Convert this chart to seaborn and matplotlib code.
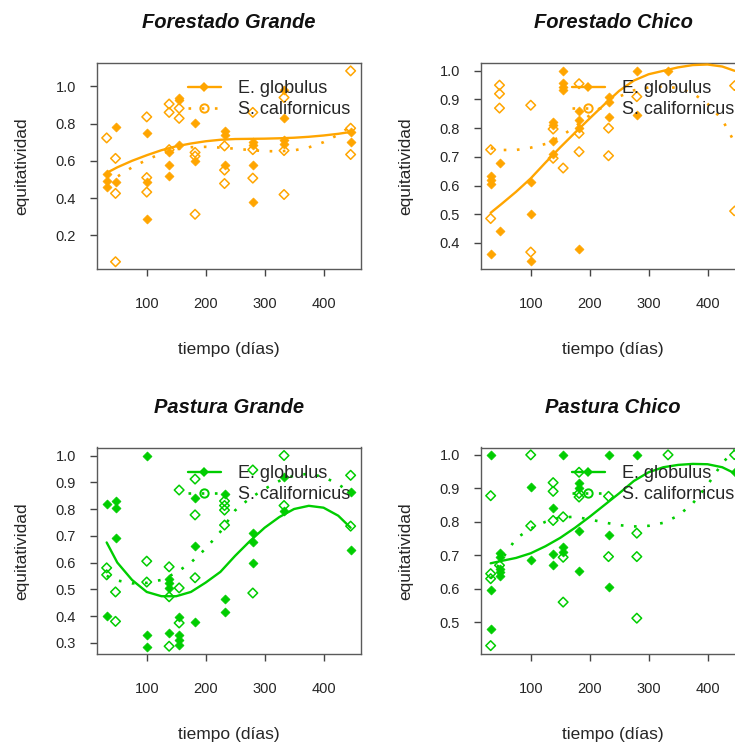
import matplotlib
matplotlib.use("Agg")
import matplotlib.pyplot as plt
from matplotlib.lines import Line2D
import pandas as pd
import seaborn as sns

# Sampling days (x) shared by every plot
DIAS = [32, 47, 100, 138, 155, 182, 232, 280, 333, 446]

# Equitativity observations per sampling day: E. globulus (filled) / S. californicus (open)
FG_EG = [[0.53, 0.49, 0.46], [0.78, 0.485], [0.748, 0.485, 0.29], [0.65, 0.58, 0.52],
         [0.94, 0.925, 0.685], [0.805, 0.60], [0.76, 0.74, 0.58], [0.70, 0.685, 0.58, 0.38],
         [0.98, 0.828, 0.71, 0.69], [0.756, 0.70]]
FG_SC = [[0.723], [0.613, 0.425, 0.058], [0.836, 0.51, 0.432], [0.905, 0.86, 0.66],
         [0.882, 0.828], [0.645, 0.625, 0.313], [0.68, 0.55, 0.478], [0.86, 0.66, 0.507],
         [0.94, 0.655, 0.419], [1.083, 0.775, 0.634]]

FC_EG = [[0.635, 0.62, 0.605, 0.36], [0.68, 0.44], [0.612, 0.50, 0.337], [0.822, 0.81, 0.755, 0.71],
         [1.0, 0.956, 0.944, 0.932], [0.86, 0.828, 0.80, 0.38], [0.91, 0.89, 0.838], [1.0, 0.847],
         [1.0], []]
FC_SC = [[0.725, 0.485], [0.95, 0.92, 0.87], [0.88, 0.368], [0.797, 0.695], [0.661],
         [0.955, 0.782, 0.718], [0.80, 0.704], [0.91], [], [0.948, 0.511]]

PG_EG = [[0.818, 0.40], [0.83, 0.804, 0.693], [1.0, 0.33, 0.285], [0.54, 0.525, 0.505, 0.335],
         [0.398, 0.33, 0.31, 0.292], [0.843, 0.662, 0.376], [0.855, 0.465, 0.416],
         [0.709, 0.675, 0.60], [0.92, 0.792], [0.865, 0.646]]
PG_SC = [[0.58, 0.554], [0.49, 0.38], [0.605, 0.527], [0.584, 0.472, 0.287], [0.871, 0.505, 0.374],
         [0.912, 0.778, 0.543], [0.83, 0.813, 0.796, 0.74], [0.946, 0.486], [1.0, 0.813],
         [0.926, 0.736]]

PC_EG = [[1.0, 0.596, 0.48], [0.708, 0.696, 0.66, 0.651, 0.638], [0.904, 0.687],
         [0.842, 0.705, 0.671], [1.0, 0.726, 0.709], [0.916, 0.901, 0.774, 0.654],
         [1.0, 0.762, 0.604], [1.0], [], [0.948]]
PC_SC = [[0.878, 0.645, 0.63, 0.43], [0.67], [1.0, 0.788], [0.917, 0.891, 0.804],
         [0.815, 0.694, 0.56], [0.948, 0.885, 0.874], [0.876, 0.696], [0.766, 0.696, 0.512],
         [1.0], [1.0]]

# Fitted trend curves, evaluated on a common day grid
CURVA_DIAS = [32, 50, 75, 100, 125, 150, 175, 200, 225, 250, 275, 300, 325, 350, 375, 400, 425, 446]
FG_EG_FIT = [0.535, 0.565, 0.60, 0.63, 0.657, 0.678, 0.693, 0.705, 0.713, 0.717, 0.718, 0.719,
             0.721, 0.724, 0.729, 0.736, 0.745, 0.755]
FG_SC_FIT = [0.48, 0.515, 0.565, 0.605, 0.64, 0.662, 0.673, 0.675, 0.671, 0.665, 0.658, 0.652,
             0.651, 0.656, 0.672, 0.70, 0.74, 0.785]
FC_EG_FIT = [0.505, 0.535, 0.578, 0.625, 0.68, 0.733, 0.784, 0.834, 0.883, 0.93, 0.966, 0.988,
             1.0, 1.012, 1.02, 1.022, 1.015, 1.0]
FC_SC_FIT = [0.73, 0.724, 0.724, 0.732, 0.745, 0.77, 0.805, 0.845, 0.88, 0.91, 0.932, 0.942,
             0.945, 0.94, 0.922, 0.885, 0.83, 0.75]
PG_EG_FIT = [0.675, 0.60, 0.535, 0.49, 0.474, 0.474, 0.49, 0.525, 0.565, 0.625, 0.68, 0.73,
             0.77, 0.80, 0.812, 0.805, 0.775, 0.73]
PG_SC_FIT = [0.55, 0.533, 0.522, 0.524, 0.535, 0.562, 0.60, 0.652, 0.715, 0.795, 0.84, 0.875,
             0.905, 0.925, 0.932, 0.92, 0.893, 0.86]
PC_EG_FIT = [0.676, 0.683, 0.692, 0.706, 0.727, 0.752, 0.782, 0.815, 0.85, 0.885, 0.922, 0.948,
             0.963, 0.97, 0.973, 0.972, 0.963, 0.945]
PC_SC_FIT = [0.63, 0.685, 0.75, 0.78, 0.80, 0.813, 0.815, 0.807, 0.798, 0.79, 0.786, 0.788,
             0.797, 0.818, 0.855, 0.91, 0.975, 1.015]

TITULOS = ["Forestado Grande", "Forestado Chico", "Pastura Grande", "Pastura Chico"]
X_TICKS = [100, 200, 300, 400]
Y_TICKS = [[0.2, 0.4, 0.6, 0.8, 1.0],
           [0.4, 0.5, 0.6, 0.7, 0.8, 0.9, 1.0],
           [0.3, 0.4, 0.5, 0.6, 0.7, 0.8, 0.9, 1.0],
           [0.5, 0.6, 0.7, 0.8, 0.9, 1.0]]
Y_LIMS = [(0.019, 1.128), (0.309, 1.029), (0.258, 1.030), (0.405, 1.022)]
X_LIM = (15.6, 463.6)
LEYENDA = ["E. globulus", "S. californicus"]

NARANJA = "#FFA500"
VERDE = "#00CD00"
TEXTO = "#262626"

sns.set_style("ticks")
plt.rcParams["font.family"] = ["Liberation Sans", "DejaVu Sans"]


def puntos(grupos):
    filas = [(d, v) for d, vals in zip(DIAS, grupos) for v in vals]
    return pd.DataFrame(filas, columns=["dia", "equit"])


W, H = 735, 745
fig = plt.figure(figsize=(W / 100, H / 100), dpi=100)

paneles = [
    (FG_EG, FG_SC, FG_EG_FIT, FG_SC_FIT, NARANJA, 97, 62.5),
    (FC_EG, FC_SC, FC_EG_FIT, FC_SC_FIT, NARANJA, 481, 62.5),
    (PG_EG, PG_SC, PG_EG_FIT, PG_SC_FIT, VERDE, 97, 447.5),
    (PC_EG, PC_SC, PC_EG_FIT, PC_SC_FIT, VERDE, 481, 447.5),
]
AW, AH = 264, 206.5
PUNTEADO = (0, (1, 4))

for i, (eg, sc, eg_fit, sc_fit, col, left, top) in enumerate(paneles):
    ax = fig.add_axes([left / W, 1 - (top + AH) / H, AW / W, AH / H])
    curvas = pd.DataFrame({"dia": CURVA_DIAS, "eg": eg_fit, "sc": sc_fit})

    sns.scatterplot(data=puntos(eg), x="dia", y="equit", ax=ax, marker="D", s=21,
                    color=col, edgecolor=col, linewidth=0.5, zorder=3)
    sns.scatterplot(data=puntos(sc), x="dia", y="equit", ax=ax, marker="D", s=24,
                    facecolor="none", edgecolor=col, linewidth=1.1, zorder=3)
    sns.lineplot(data=curvas, x="dia", y="eg", ax=ax, color=col, lw=1.7, zorder=4)
    sns.lineplot(data=curvas, x="dia", y="sc", ax=ax, color=col, lw=1.9,
                 linestyle=PUNTEADO, zorder=4)

    ax.set_xlim(*X_LIM)
    ax.set_ylim(*Y_LIMS[i])
    ax.set_xticks(X_TICKS)
    ax.set_yticks(Y_TICKS[i])
    ax.set_xticklabels([str(t) for t in X_TICKS])
    ax.set_yticklabels([f"{t:.1f}" for t in Y_TICKS[i]])
    ax.tick_params(axis="both", direction="out", length=5, width=1, colors="#444444",
                   labelcolor=TEXTO, labelsize=10.5)
    ax.tick_params(axis="x", pad=15)
    ax.tick_params(axis="y", pad=10)
    for sp in ax.spines.values():
        sp.set_visible(True)
        sp.set_color("#5a5a5a")
        sp.set_linewidth(1.0)

    ax.set_xlabel("tiempo (días)", fontsize=12.5, color=TEXTO, va="center")
    ax.set_ylabel("equitatividad", fontsize=12.5, color=TEXTO, va="center")
    ax.xaxis.set_label_coords(0.5, -81 / AH)
    ax.yaxis.set_label_coords(-75 / AW, 0.5)
    ax.text(0.5, 1 + 40 / AH, TITULOS[i], transform=ax.transAxes, ha="center",
            va="center", fontsize=14.5, fontweight="bold", fontstyle="italic", color="#111111")

    manejadores = [
        Line2D([], [], color=col, lw=1.7, marker="D", markersize=4.6, markeredgewidth=0),
        Line2D([], [], color=col, lw=1.9, linestyle=PUNTEADO, marker="o", markersize=6,
               markerfacecolor="none", markeredgewidth=1.4),
    ]
    ax.legend(manejadores, LEYENDA, loc="center left", bbox_to_anchor=(91 / AW, 0.823),
              frameon=False, fontsize=13, handlelength=1.8, handletextpad=0.95,
              labelspacing=0.2, borderpad=0, borderaxespad=0, labelcolor=TEXTO)

fig.savefig("out.png", dpi=100)
